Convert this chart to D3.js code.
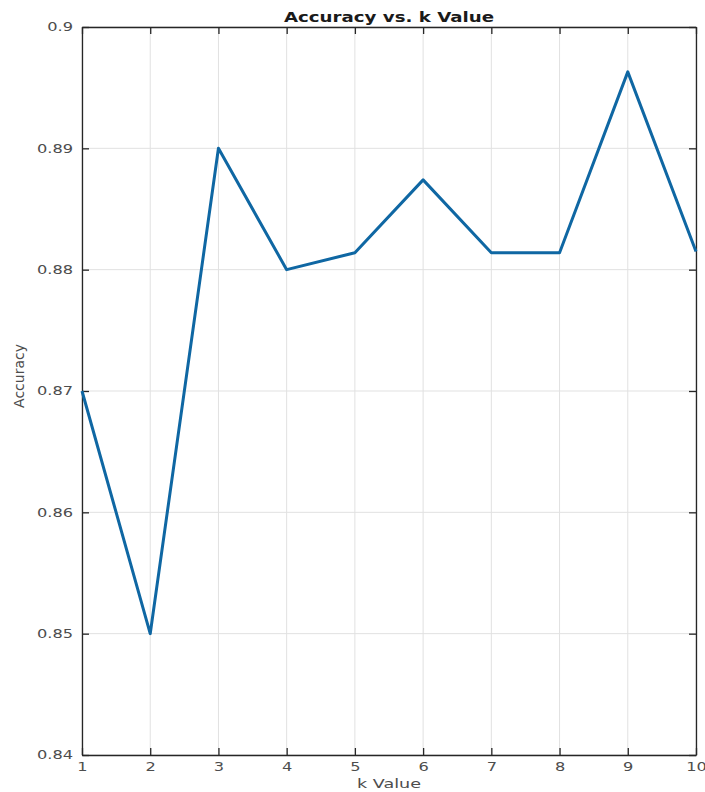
<!DOCTYPE html>
<html>
<head>
<meta charset="utf-8">
<script src="https://cdn.jsdelivr.net/npm/d3@7"></script>
<style>
body { margin: 0; background: #fff; }
text { font-family: "DejaVu Sans", sans-serif; }
</style>
</head>
<body>
<div id="chart"></div>
<script>
// data
let kValues = [1, 2, 3, 4, 5, 6, 7, 8, 9, 10];
let accuracy = [0.87, 0.85, 0.89, 0.88, 0.8814, 0.8874, 0.8814, 0.8814, 0.8963, 0.8815];
let yTicks = [0.84, 0.85, 0.86, 0.87, 0.88, 0.89, 0.9];

let margin = {top: 27, right: 9, bottom: 37, left: 82},
    width = 705 - margin.left - margin.right,
    height = 792 - margin.top - margin.bottom;

// the picture looks a bit wide, so horizontal text gets stretched
let stretch = 1.35;
function widen(sel, f) {
    sel.each(function() {
        let len = this.getComputedTextLength();
        d3.select(this)
            .attr("textLength", len * (f || stretch))
            .attr("lengthAdjust", "spacingAndGlyphs");
    });
}

let svg = d3.select("#chart")
    .append("svg")
    .attr("width", 705)
    .attr("height", 792)
    .append("g")
    .attr("transform", "translate(" + margin.left + "," + margin.top + ")");

let x = d3.scaleLinear().domain([1, 10]).range([0, width]);
let y = d3.scaleLinear().domain([0.84, 0.9]).range([height, 0]);

// grid
svg.append("g").selectAll("line")
    .data(kValues)
    .join("line")
    .attr("x1", d => x(d)).attr("x2", d => x(d))
    .attr("y1", 0).attr("y2", height)
    .attr("stroke", "#e1e1e1").attr("stroke-width", 1);

svg.append("g").selectAll("line")
    .data(yTicks)
    .join("line")
    .attr("x1", 0).attr("x2", width)
    .attr("y1", d => y(d)).attr("y2", d => y(d))
    .attr("stroke", "#e1e1e1").attr("stroke-width", 1);

// axes (ticks inside, box style)
let tickFmt = d => d3.format("")(+d.toFixed(2));
let axisColor = "#262626";

let xBottom = svg.append("g")
    .attr("transform", "translate(0," + height + ")")
    .call(d3.axisBottom(x).tickValues(kValues).tickSizeInner(-7).tickSizeOuter(0).tickPadding(7));
let xTop = svg.append("g")
    .call(d3.axisTop(x).tickValues(kValues).tickSizeInner(-7).tickSizeOuter(0).tickFormat(""));
let yLeft = svg.append("g")
    .call(d3.axisLeft(y).tickValues(yTicks).tickSizeInner(-7).tickSizeOuter(0).tickPadding(9).tickFormat(tickFmt));
let yRight = svg.append("g")
    .attr("transform", "translate(" + width + ",0)")
    .call(d3.axisRight(y).tickValues(yTicks).tickSizeInner(-7).tickSizeOuter(0).tickFormat(""));

[xBottom, xTop, yLeft, yRight].forEach(a => {
    a.selectAll("path").attr("stroke", axisColor).attr("stroke-width", 1.3);
    a.selectAll("line").attr("stroke", axisColor).attr("stroke-width", 1.3);
    a.selectAll("text").attr("fill", "#4d4d4d").style("font-size", "12px");
    widen(a.selectAll("text"));
});

// line
let line = d3.line()
    .x((d, i) => x(kValues[i]))
    .y(d => y(d));

svg.append("path")
    .datum(accuracy)
    .attr("d", line)
    .attr("fill", "none")
    .attr("stroke", "#0f67a3")
    .attr("stroke-width", 3)
    .attr("stroke-linejoin", "round");

// labels
let title = svg.append("text")
    .attr("x", width / 2)
    .attr("y", -5)
    .attr("text-anchor", "middle")
    .style("font-size", "14px")
    .style("font-weight", "bold")
    .attr("fill", "#1a1a1a")
    .text("Accuracy vs. k Value");
widen(title, 1.3);

let xLabel = svg.append("text")
    .attr("x", width / 2)
    .attr("y", height + 33)
    .attr("text-anchor", "middle")
    .style("font-size", "13px")
    .attr("fill", "#4d4d4d")
    .text("k Value");
widen(xLabel);

svg.append("text")
    .attr("transform", "translate(" + (-58) + "," + (height / 2 - 15) + ") rotate(-90)")
    .attr("text-anchor", "middle")
    .style("font-size", "14px")
    .attr("fill", "#4d4d4d")
    .text("Accuracy");
</script>
</body>
</html>
